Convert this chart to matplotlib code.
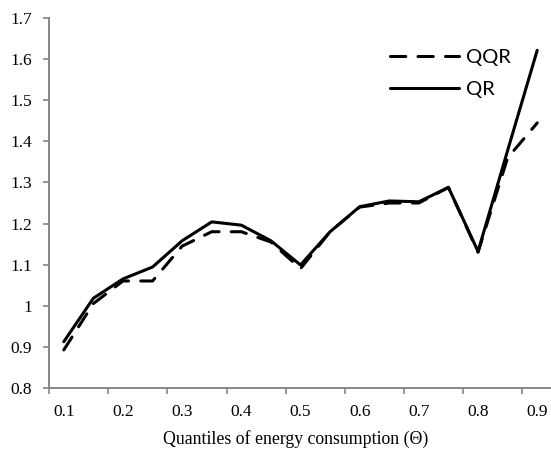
import matplotlib.pyplot as plt
import numpy as np

# quantiles of energy consumption (category axis, every 0.05)
quantiles = [0.1, 0.15, 0.2, 0.25, 0.3, 0.35, 0.4, 0.45, 0.5,
             0.55, 0.6, 0.65, 0.7, 0.75, 0.8, 0.85, 0.9]
qqr = [0.892, 1.005, 1.06, 1.06, 1.145, 1.18, 1.18, 1.155, 1.09,
       1.18, 1.24, 1.25, 1.25, 1.288, 1.13, 1.36, 1.445]
qr = [0.912, 1.018, 1.065, 1.094, 1.158, 1.204, 1.196, 1.158, 1.099,
      1.18, 1.241, 1.255, 1.253, 1.288, 1.132, 1.378, 1.622]
y_ticks = [0.8, 0.9, 1.0, 1.1, 1.2, 1.3, 1.4, 1.5, 1.6, 1.7]
y_labels = ["0.8", "0.9", "1", "1.1", "1.2", "1.3", "1.4", "1.5", "1.6", "1.7"]

serif = ["Liberation Serif", "DejaVu Serif"]
axis_grey = "#868686"

fig = plt.figure(figsize=(5.51, 4.55), dpi=100)
ax = fig.add_axes([49 / 551, 1 - 387.7 / 455, 503 / 551, (387.7 - 18.3) / 455])

idx = np.arange(len(quantiles))
ax.plot(idx, qqr, color="black", lw=2.2, linestyle=(0, (5, 4)),
        dash_capstyle="round", solid_joinstyle="round", label="QQR")
ax.plot(idx, qr, color="black", lw=2.2, solid_joinstyle="round",
        solid_capstyle="round", label="QR")

ax.set_xlim(-0.5, len(quantiles) - 0.5)
ax.set_ylim(0.8, 1.7)

# tick marks between categories, labels on every other category
ax.set_xticks(np.arange(-0.5, len(quantiles) - 1, 2))
ax.set_xticklabels([])
ax.set_xticks(idx[::2], minor=True)
ax.set_xticklabels([f"{q:g}" for q in quantiles[::2]], minor=True,
                   family=serif, fontsize=12.5)
ax.tick_params(axis="x", which="major", length=4, width=1.2, color=axis_grey)
ax.tick_params(axis="x", which="minor", length=0, pad=12)

ax.set_yticks(y_ticks)
ax.set_yticklabels(y_labels, family=serif, fontsize=12.5)
ax.tick_params(axis="y", length=4, width=1.2, color=axis_grey, pad=8)

for side in ["top", "right"]:
    ax.spines[side].set_visible(False)
for side in ["left", "bottom"]:
    ax.spines[side].set_color(axis_grey)
    ax.spines[side].set_linewidth(1.4)

ax.set_xlabel("Quantiles of energy consumption (\u0398)", family=serif,
              fontsize=12.8)
ax.xaxis.set_label_coords(0.49, -0.115)

leg = ax.legend(loc="upper left", bbox_to_anchor=(0.678, 0.917), frameon=False,
                prop={"family": ["Lato", "DejaVu Sans"], "size": 14.5},
                handlelength=3.4, handletextpad=0.35, labelspacing=0.72,
                borderaxespad=0, borderpad=0)

fig.savefig("out.png", dpi=100)
